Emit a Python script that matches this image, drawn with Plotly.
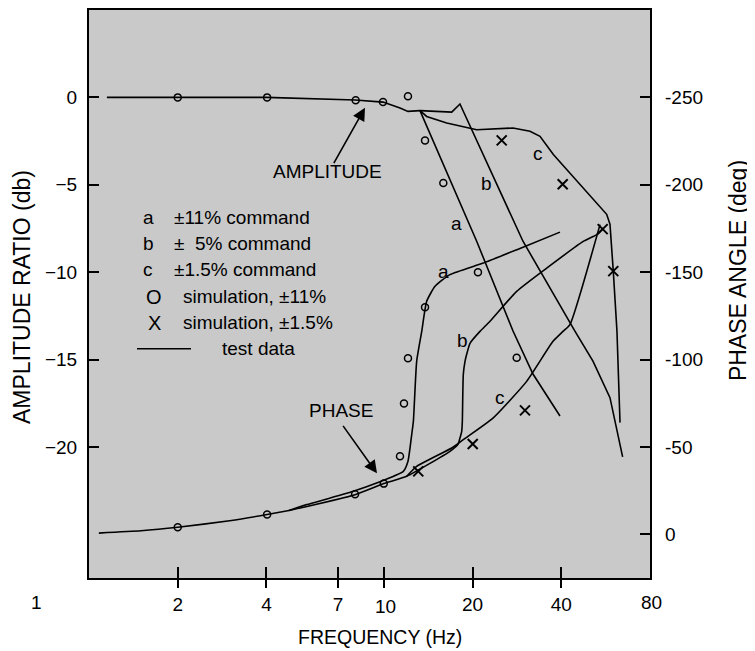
import math
import plotly.graph_objects as go

# ---------------- data ----------------
# Amplitude ratio (dB) vs frequency (Hz) -- test data
amp_common_f = [1.15, 2.0, 4.0, 8.0, 9.94, 11.35, 12.08, 13.27]
amp_common_db = [0.0, 0.0, 0.0, -0.15, -0.27, -0.61, -0.80, -0.76]

amp_a_f = [13.27, 20.66, 27.44, 32.07, 39.6]
amp_a_db = [-0.76, -8.23, -13.37, -15.83, -18.23]

amp_b_f = [13.27, 17.0, 18.13, 29.66, 44.5, 51.24, 58.52, 64.6]
amp_b_db = [-0.76, -0.84, -0.38, -8.23, -13.37, -15.09, -17.18, -20.57]

amp_c_f = [13.27, 13.98, 16.35, 19.11, 20.66, 27.44, 31.33, 33.88, 37.6, 57.03, 58.52, 60.05, 61.8, 63.3]
amp_c_db = [-0.76, -1.09, -1.47, -1.75, -1.85, -1.75, -1.94, -2.23, -3.27, -6.69, -7.26, -9.94, -13.37, -18.61]

# simulation points (amplitude)
amp_sim11_f = [2.0, 4.02, 8.03, 9.94, 12.08, 13.8, 15.92, 20.87, 28.24]
amp_sim11_db = [0.0, 0.0, -0.17, -0.27, 0.06, -2.47, -4.90, -10.0, -14.9]
amp_sim15_f = [25.12, 40.45, 55.28, 60.05]
amp_sim15_db = [-2.46, -4.97, -7.54, -9.94]

# Phase angle (deg) vs frequency (Hz) -- test data
ph_common_f = [1.08, 1.5, 2.0, 3.0, 4.02, 4.77]
ph_common = [-0.7, -2.0, -4.0, -7.8, -11.3, -13.6]

ph_a_f = [4.77, 5.48, 7.88, 11.65, 12.08, 12.44, 12.6, 12.93, 13.45, 13.98, 14.92, 16.77, 21.76, 28.97, 39.6]
ph_a = [-13.6, -17.0, -24.6, -36.0, -41.8, -57.2, -64.6, -99.0, -116.1, -133.3, -141.9, -148.6, -155.2, -163.6, -172.9]

ph_b_f = [4.77, 7.99, 10.0, 11.96, 16.77, 17.85, 18.13, 18.38, 18.47, 18.61, 18.86, 19.11, 19.61, 21.2, 22.93, 28.24, 35.7, 47.5, 52.76, 55.54]
ph_b = [-13.6, -22.7, -29.0, -33.2, -47.5, -51.5, -55.1, -58.9, -64.6, -91.5, -99.0, -103.0, -109.3, -116.1, -121.9, -139.0, -152.3, -167.6, -171.5, -175.2]

ph_c_f = [11.96, 12.93, 17.0, 18.61, 23.47, 30.53, 37.5, 40.55, 42.8, 54.13]
ph_c = [-33.2, -38.9, -49.4, -54.2, -66.5, -87.5, -110.4, -116.1, -120.0, -177.2]

# simulation points (phase)
ph_sim11_f = [2.0, 4.02, 7.99, 10.0, 11.35, 11.71, 12.08, 13.8]
ph_sim11 = [-4.0, -11.3, -22.9, -29.0, -44.6, -74.9, -100.7, -129.9]
ph_sim15_f = [13.09, 20.03, 30.13]
ph_sim15 = [-36.0, -51.7, -70.9]

# axes
x_range_hz = [1, 80]
x_ticks = [2, 4, 7, 10, 20, 40]
x_ticktext = ["2", "4", "7", "", "20", "40"]   # "10" sits a little lower; drawn separately
db_range = [-27.5, 5]
db_ticks = [0, -5, -10, -15, -20]
db_ticktext = ["0", "\u22125", "\u221210", "\u221215", "\u221220"]
ph_ticks = [-250, -200, -150, -100, -50, 0]
ph_ticktext = ["-250", "-200", "-150", "-100", "-50", "0"]

legend_rows = [
    ("a", "\u00b111% command"),
    ("b", "\u00b1\u00a0\u00a05% command"),
    ("c", "\u00b11.5% command"),
    ("O", "simulation, \u00b111%"),
    ("X", "simulation, \u00b11.5%"),
]

# ---------------- figure ----------------
FONT = "Liberation Sans, Arial, Helvetica, sans-serif"
# page body has an 8px margin, so the figure is offset by 8px in the window
OFF = 8
PX0, PX1, PY0, PY1 = 89, 650, 8, 578          # plot area in window pixels
W, H = 745, 641
ML, MT = PX0 - OFF, PY0 - OFF
MR = W - ML - (PX1 - PX0)
MB = H - MT - (PY1 - PY0)
PW, PH = PX1 - PX0, PY1 - PY0


def P(px, py):
    return (px - PX0) / PW, (PY1 - py) / PH


LINE = dict(color="black", width=1.6)
SLINE = dict(color="black", width=1.6, shape="spline", smoothing=0.5)
fig = go.Figure()

for fx, fy in [(amp_common_f, amp_common_db), (amp_a_f, amp_a_db),
               (amp_b_f, amp_b_db), (amp_c_f, amp_c_db)]:
    fig.add_trace(go.Scatter(x=fx, y=fy, mode="lines", line=LINE,
                             showlegend=False, hoverinfo="skip"))
for fx, fy in [(ph_common_f, ph_common), (ph_a_f, ph_a),
               (ph_b_f, ph_b), (ph_c_f, ph_c)]:
    fig.add_trace(go.Scatter(x=fx, y=fy, mode="lines", line=SLINE, yaxis="y2",
                             showlegend=False, hoverinfo="skip"))

CIRC = dict(symbol="circle-open", size=7, color="black", line=dict(width=1.5, color="black"))
XM = dict(symbol="x-thin-open", size=10, color="black", line=dict(width=2, color="black"))
fig.add_trace(go.Scatter(x=amp_sim11_f, y=amp_sim11_db, mode="markers", marker=CIRC, showlegend=False))
fig.add_trace(go.Scatter(x=amp_sim15_f, y=amp_sim15_db, mode="markers", marker=XM, showlegend=False))
fig.add_trace(go.Scatter(x=ph_sim11_f, y=ph_sim11, mode="markers", marker=CIRC, yaxis="y2", showlegend=False))
fig.add_trace(go.Scatter(x=ph_sim15_f, y=ph_sim15, mode="markers", marker=XM, yaxis="y2", showlegend=False))
# helper trace so that the overlay x axis (inner tick marks) is drawn
fig.add_trace(go.Scatter(x=[], y=[], xaxis="x2", showlegend=False, hoverinfo="skip"))

lx = [math.log10(v) for v in x_range_hz]
ph_range = [-10 * db_range[0] - 250, -10 * db_range[1] - 250]

fig.update_layout(
    width=W, height=H,
    margin=dict(l=ML, r=MR, t=MT, b=MB, pad=0),
    paper_bgcolor="white",
    plot_bgcolor="#c9c9c9",
    font=dict(family=FONT, size=19, color="black"),
    xaxis=dict(type="log", range=lx, tickvals=x_ticks, ticktext=x_ticktext,
               ticks="outside", ticklen=8, tickwidth=2, tickcolor="black",
               showline=True, linewidth=2, linecolor="black", mirror=True,
               showgrid=False, zeroline=False, ticklabelstandoff=0,
               tickfont=dict(size=19)),
    xaxis2=dict(type="log", range=lx, overlaying="x", anchor="y", side="bottom",
                tickvals=x_ticks, ticks="inside", ticklen=11, tickwidth=2, tickcolor="black",
                showticklabels=False, showline=False, showgrid=False, zeroline=False),
    yaxis=dict(range=db_range, tickvals=db_ticks, ticktext=db_ticktext,
               ticks="inside", ticklen=10, tickwidth=2, tickcolor="black",
               showline=True, linewidth=2, linecolor="black", mirror=True,
               showgrid=False, zeroline=False, ticklabelstandoff=6,
               tickfont=dict(size=19)),
    yaxis2=dict(range=ph_range, overlaying="y", side="right", anchor="x",
                tickvals=ph_ticks, ticktext=ph_ticktext,
                ticks="inside", ticklen=10, tickwidth=2, tickcolor="black",
                showline=False, showgrid=False, zeroline=False, ticklabelstandoff=14,
                tickfont=dict(size=19)),
)

ann = []


def text(px, py, s, size=19, xanchor="center", angle=0):
    x, y = P(px, py)
    ann.append(dict(x=x, y=y, xref="paper", yref="paper", text=s, showarrow=False,
                    xanchor=xanchor, yanchor="middle", textangle=angle,
                    font=dict(size=size, family=FONT, color="black")))


def arrow(hx, hy, tx, ty):
    x, y = P(hx, hy)
    ann.append(dict(x=x, y=y, xref="paper", yref="paper", text="", showarrow=True,
                    ax=tx - hx, ay=ty - hy, axref="pixel", ayref="pixel",
                    arrowhead=2, arrowsize=1.6, arrowwidth=1.6, arrowcolor="black"))


# axis titles and stray tick labels
text(22, 296, "AMPLITUDE RATIO (db)", size=23, angle=-90)
text(738, 270, "PHASE ANGLE (deg)", size=23, angle=-90)
text(380, 637, "FREQUENCY (Hz)", size=19.5)
text(36, 603, "1")
text(385, 607, "10")
text(651, 603, "80")

# curve annotations
text(327, 170, "AMPLITUDE")
arrow(365, 106, 333, 163)
text(341, 410, "PHASE")
arrow(377, 473, 342, 424)

for (px, py, s) in [(456, 222, "a"), (486, 182, "b"), (538, 152, "c"),
                    (443, 270, "a"), (462, 340, "b"), (500, 397, "c")]:
    text(px, py, s)

# legend block
row_y = [216, 242, 268, 296, 322]
for (key, label), ry in zip(legend_rows, row_y):
    if key in "abc":
        text(148, ry, key)
        text(172, ry, label, xanchor="left")
    else:
        text(154, ry, key, size=20)
        text(181, ry, label, xanchor="left")
text(220, 348, "test data", xanchor="left")

fig.update_layout(annotations=ann)
x0, y0 = P(137, 348)
x1, _ = P(191, 348)
fig.add_shape(type="line", xref="paper", yref="paper", x0=x0, y0=y0, x1=x1, y1=y0,
              line=dict(color="black", width=1.6))

fig.write_html("out.html")
